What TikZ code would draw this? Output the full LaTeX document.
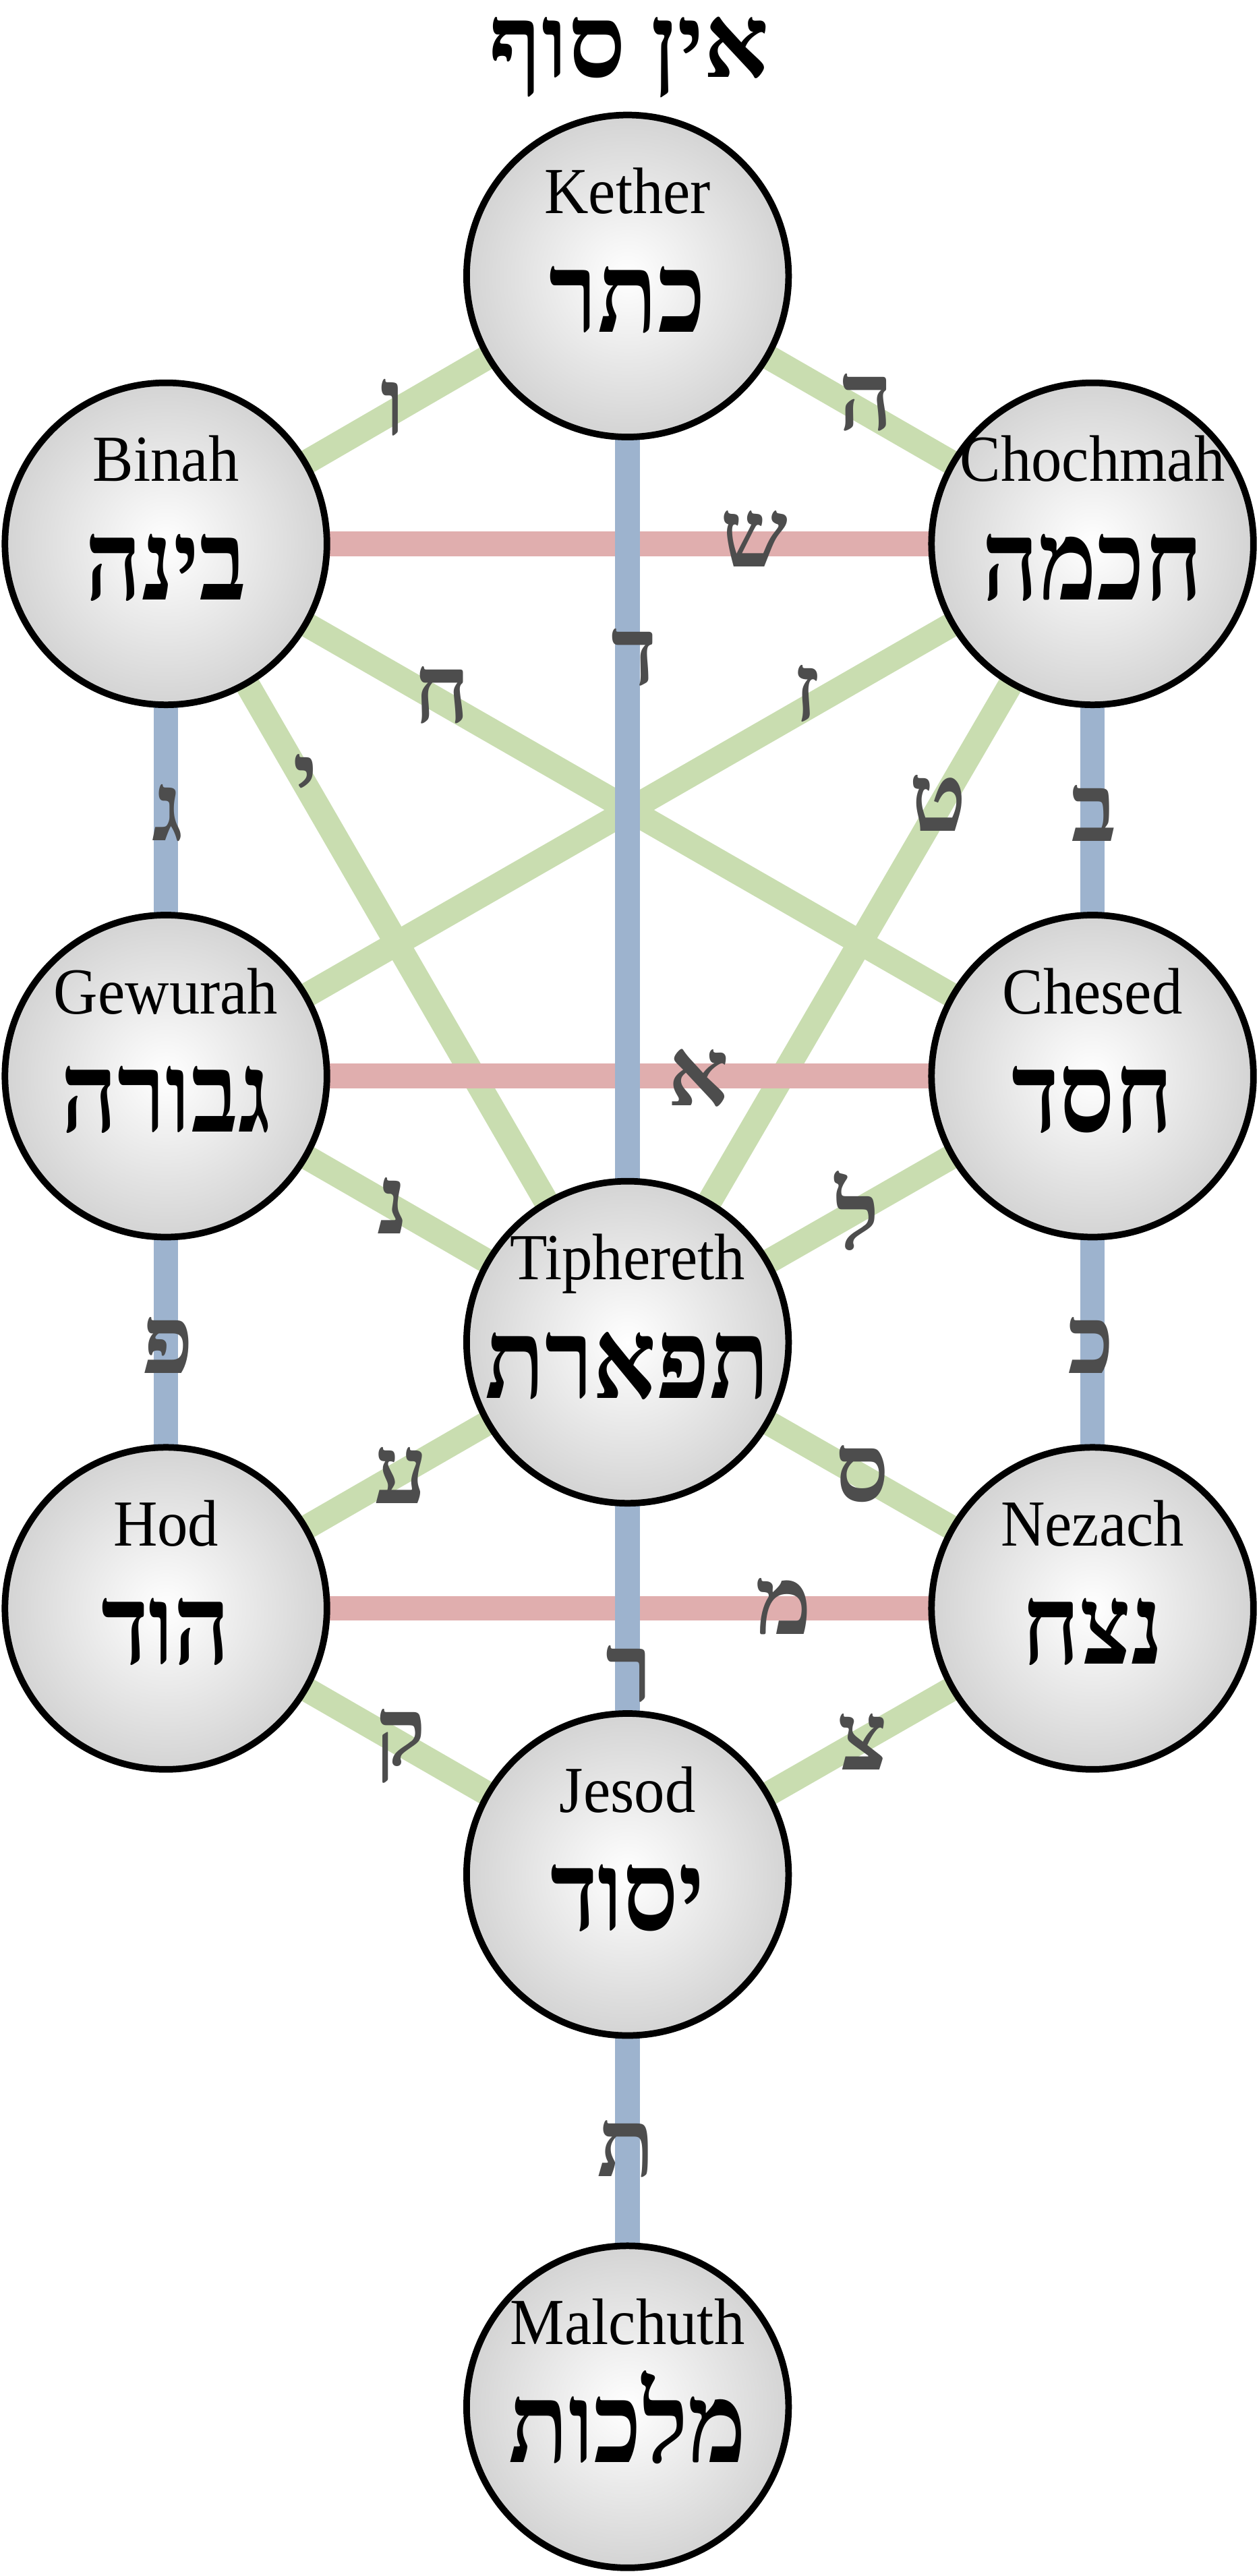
\documentclass[tikz,border=0pt]{standalone}
\usepackage{fontspec}
\usepackage{graphicx}
\setmainfont{Liberation Serif}
\newfontfamily\heb[Script=Hebrew]{Liberation Serif}
\TeXXeTstate=1
\usetikzlibrary{backgrounds}
\definecolor{gpath}{HTML}{C9DDB0}
\definecolor{rpath}{HTML}{E0AEAE}
\definecolor{bpath}{HTML}{9DB3CE}
\definecolor{lab}{HTML}{4D4D4D}
\tikzset{
 sef/.style={circle,draw=black,line width=4pt,minimum size=196pt,inner sep=0pt,shading=radial,inner color=white,outer color=black!17},
 nm/.style={anchor=base,inner sep=0pt,font=\fontsize{40}{40}\selectfont},
 hn/.style={anchor=base,inner sep=0pt,font=\heb\bfseries\fontsize{68}{68}\selectfont},
 gp/.style={gpath,line width=15pt},
 rp/.style={rpath,line width=15pt},
 bp/.style={bpath,line width=15pt},
 lbl/.style={text=lab,font=\heb\fontsize{58}{58}\selectfont\bfseries,inner sep=0pt}
}
\newcommand{\sq}[1]{\scalebox{0.93}[1]{#1}}
\newcommand{\hq}[1]{\scalebox{0.88}[1]{#1}}
\begin{document}
\begin{tikzpicture}[x=1pt,y=-1pt]
\useasboundingbox (0,0) rectangle (766,1568);
\node[font=\heb\bfseries\fontsize{62}{62}\selectfont,inner sep=0pt,anchor=base] (title) at (383,47) {\beginR אין סוף\endR};
\foreach \n/\x/\y/\la/\he in {ket/382/168/Kether/כתר, bin/101/331/Binah/בינה, cho/665/331/Chochmah/חכמה, gew/101/655/Gewurah/גבורה, che/665/655/Chesed/חסד, tip/382/817/Tiphereth/תפארת, hod/101/979/Hod/הוד, nez/665/979/Nezach/נצח, jes/382/1141/Jesod/יסוד, mal/382/1465/Malchuth/מלכות}{
 \node[sef] (\n) at (\x,\y) {};
 \node[nm] (\n-name) at ([yshift=38pt]\n.center) {\sq{\la}};
 \node[hn] (\n-heb) at ([yshift=-34pt]\n.center) {\hq{\beginR\he\endR}};
}
\begin{scope}[on background layer]
\draw[gp] (ket.center)--(bin.center); \draw[gp] (ket.center)--(cho.center);
\draw[gp] (bin.center)--(che.center); \draw[gp] (cho.center)--(gew.center);
\draw[gp] (bin.center)--(tip.center); \draw[gp] (cho.center)--(tip.center);
\draw[gp] (gew.center)--(tip.center); \draw[gp] (che.center)--(tip.center);
\draw[gp] (tip.center)--(hod.center); \draw[gp] (tip.center)--(nez.center);
\draw[gp] (hod.center)--(jes.center); \draw[gp] (nez.center)--(jes.center);
\draw[rp] (bin.center)--(cho.center); \draw[rp] (gew.center)--(che.center); \draw[rp] (hod.center)--(nez.center);
\draw[bp] (ket.center)--(tip.center); \draw[bp] (tip.center)--(jes.center); \draw[bp] (jes.center)--(mal.center);
\draw[bp] (bin.center)--(gew.center); \draw[bp] (gew.center)--(hod.center);
\draw[bp] (cho.center)--(che.center); \draw[bp] (che.center)--(nez.center);
\end{scope}
\node[lbl] (l1) at (239,248) {ו};
\node[lbl] (l2) at (527,245) {ה};
\node[lbl] (l3) at (459,328) {ש};
\node[lbl] (l4) at (386,400) {ד};
\node[lbl] (l5) at (269,423) {ח};
\node[lbl] (l6) at (491,422) {ז};
\node[lbl] (l7) at (102,495) {ג};
\node[lbl] (l8) at (666,495) {ב};
\node[lbl] (l9) at (186,476) {י};
\node[lbl] (l10) at (571,489) {ט};
\node[lbl] (l11) at (425,656) {א};
\node[lbl] (l12) at (239,734) {נ};
\node[lbl] (l13) at (522,737) {ל};
\node[lbl] (l14) at (102,819) {פ};
\node[lbl] (l15) at (664,819) {כ};
\node[lbl] (l16) at (244,898) {ע};
\node[lbl] (l17) at (525,897) {ס};
\node[lbl] (l18) at (477,978) {מ};
\node[lbl] (l19) at (383,1019) {ר};
\node[lbl] (l20) at (244,1063) {ק};
\node[lbl] (l21) at (525,1060) {צ};
\node[lbl] (l22) at (381,1308) {ת};
\end{tikzpicture}
\end{document}
